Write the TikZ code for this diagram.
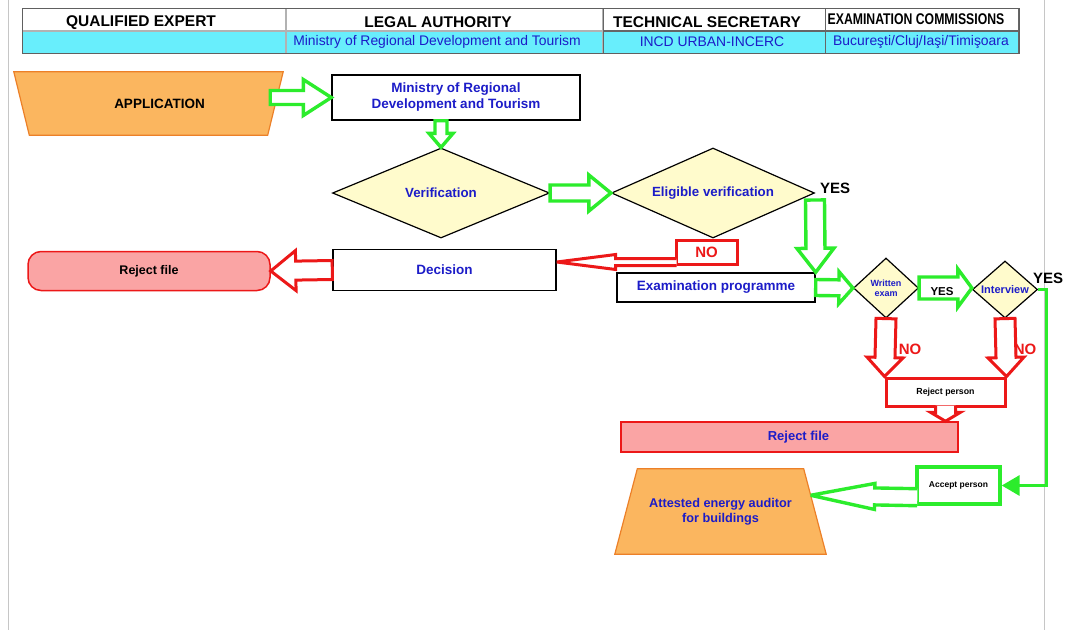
\documentclass[tikz,border=0pt]{standalone}
\usepackage{fontspec}
\setmainfont{Liberation Sans}
\usepackage{graphicx}
\usetikzlibrary{shapes,arrows.meta,positioning,calc,backgrounds}

\definecolor{txtblue}{RGB}{28,28,200}
\definecolor{hdrcyan}{RGB}{104,238,252}
\definecolor{orfill}{RGB}{251,182,95}
\definecolor{ordraw}{RGB}{236,128,40}
\definecolor{grn}{RGB}{44,236,44}
\definecolor{rd}{RGB}{236,24,24}
\definecolor{pinkfill}{RGB}{250,164,164}
\definecolor{yelfill}{RGB}{255,251,204}

% hollow block arrow: style, from, to, shaft half width, head half width, head length
\newcommand{\fatarrowpath}[7]{%
  \coordinate (hb) at ($(#3)!#6!(#2)$);
  \path[#1] ($(#2)!#4!90:(hb)$) -- ($(hb)!#4!-90:(#2)$) -- ($(hb)!#5!-90:(#2)$) -- (#3)
    -- ($(hb)!#5!90:(#2)$) -- ($(hb)!#4!90:(#2)$) -- ($(#2)!#4!-90:(hb)$) #7;
}
\newcommand{\fatarrow}[6][]{\fatarrowpath{#1}{#2}{#3}{#4}{#5}{#6}{-- cycle}}
\newcommand{\fatarrowopen}[6][]{\fatarrowpath{#1}{#2}{#3}{#4}{#5}{#6}{}}

\begin{document}
\begin{tikzpicture}[
    x=1pt, y=-1pt,
    hcell/.style={rectangle, draw=gray!60, line width=0.8pt, minimum height=22, inner sep=0pt},
    htitle/.style={font=\fontsize{15.5}{17}\selectfont\bfseries, inner sep=0pt},
    hsub/.style={font=\fontsize{13.9}{16}\selectfont, text=txtblue, inner sep=0pt},
    box/.style={rectangle, draw=black, line width=1.4pt, fill=white, text=txtblue, align=center,
        font=\fontsize{13.5}{16}\selectfont\bfseries, inner sep=0pt},
    cond/.style={diamond, draw=black, line width=1.2pt, fill=yelfill, text=txtblue, align=center,
        font=\fontsize{13.3}{15}\selectfont\bfseries, inner sep=0pt},
    trapbox/.style={rectangle, align=center, font=\fontsize{13.5}{16}\selectfont\bfseries, inner sep=0pt},
    trapline/.style={draw=ordraw, line width=1.2pt, fill=orfill},
    rejbox/.style={rectangle, draw=rd, line width=1.5pt, fill=pinkfill, inner sep=0pt,
        font=\fontsize{12.5}{14}\selectfont\bfseries},
    garrow/.style={draw=grn, line width=3.4pt, fill=white, line join=miter, miter limit=4},
    rarrow/.style={draw=rd, line width=3pt, fill=white, line join=miter, miter limit=4},
    lbl/.style={font=\fontsize{15}{17}\selectfont\bfseries, inner sep=0pt}
]
    \useasboundingbox (0,0) rectangle (1074,630);
    % page edges
    \draw[gray!45, line width=1pt] (8,0) -- (8,630);
    \draw[gray!45, line width=1pt] (1044,0) -- (1044,630);

    % Header table
    \node[hcell, minimum width=263, anchor=north west] (c1) at (22,8) {};
    \node[hcell, minimum width=316, right=0pt of c1] (c2) {};
    \node[hcell, minimum width=222, right=0pt of c2, draw=gray!80!black] (c3) {};
    \node[hcell, minimum width=193, right=0pt of c3, draw=gray!80!black] (c4) {};
    \node[hcell, minimum width=263, below=0pt of c1, fill=hdrcyan] (c5) {};
    \node[hcell, minimum width=316, right=0pt of c5, fill=hdrcyan] (c6) {};
    \node[hcell, minimum width=222, right=0pt of c6, fill=hdrcyan, draw=gray!80!black] (c7) {};
    \node[hcell, minimum width=193, right=0pt of c7, fill=hdrcyan, draw=gray!80!black] (c8) {};
    \draw[gray!75!black, line width=1pt] (c1.north west) rectangle (c8.south east);
    \node[htitle] (tqe) at (141,22.5) {QUALIFIED EXPERT};
    \node[htitle] (tla) at (438,22) {LEGAL AUTHORITY};
    \node[htitle] (tts) at (707,22) {TECHNICAL SECRETARY};
    \node[htitle] (tec) at (916,19) {\scalebox{0.79}[1]{EXAMINATION COMMISSIONS}};
    \node[hsub] (sla) at (437,42) {Ministry of Regional Development and Tourism};
    \node[hsub] (sts) at (712,42) {INCD URBAN-INCERC};
    \node[hsub] (sec) at (921,42) {Bucureşti/Cluj/Iaşi/Timişoara};

    % Nodes
    \node[trapbox, minimum width=269, minimum height=63] (app) at (148.5,103.5) {\hspace{22pt}APPLICATION};
    \node[box, minimum width=248, minimum height=45] (minreg) at (456,97.5)
        {Ministry of Regional\\Development and Tourism};
    \node[cond, aspect=2.4, minimum width=217, minimum height=90] (verif) at (441,193) {Verification};
    \node[cond, aspect=2.26, minimum width=203, minimum height=90] (elig) at (713,193) {Eligible verification};
    \node[box, minimum width=223, minimum height=41] (decision) at (444.5,270) {Decision};
    \node[rejbox, rounded corners=13, minimum width=242, minimum height=39] (rejl) at (149,271) {Reject file};
    \node[box, minimum width=198, minimum height=29] (exprog) at (716,287.5) {Examination programme};
    \node[cond, aspect=1.08, minimum width=65, minimum height=60,
        font=\fontsize{9}{10}\selectfont\bfseries] (wexam) at (886,288) {Written\\exam};
    \node[cond, aspect=1.14, minimum width=65, minimum height=57,
        font=\fontsize{11}{12}\selectfont\bfseries] (interv) at (1005,289.5) {Interview};
    \node[rectangle, draw=rd, line width=3pt, fill=white, minimum width=119, minimum height=28,
        font=\fontsize{8.8}{10}\selectfont\bfseries] (rejp) at (945.5,392) {Reject person};
    \node[rejbox, text=txtblue, font=\fontsize{13}{15}\selectfont\bfseries,
        minimum width=337, minimum height=30] (rejr) at (789.5,437) {\hspace{18pt}Reject file};
    \node[rectangle, draw=grn, line width=3.4pt, fill=white, minimum width=83, minimum height=37,
        font=\fontsize{8.5}{10}\selectfont\bfseries] (accp) at (958.5,485.5) {Accept person};
    \node[trapbox, text=txtblue, minimum width=211, minimum height=85,
        font=\fontsize{12.7}{15}\selectfont\bfseries] (att) at (720.5,511.5)
        {Attested energy auditor\\for buildings};
    \node[rectangle, draw=rd, line width=3pt, fill=white, minimum width=61, minimum height=24,
        text=rd, lbl] (nobox) at (706.5,252) {NO};

    % Trapezoids behind their texts
    \begin{scope}[on background layer]
        \path[trapline] (app.north west) -- (app.north east) -- ([xshift=-15.5pt]app.south east)
            -- ([xshift=15.5pt]app.south west) -- cycle;
        \path[trapline] ([xshift=22.5pt]att.north west) -- ([xshift=-22.5pt]att.north east)
            -- (att.south east) -- (att.south west) -- cycle;
    \end{scope}

    % Arrows
    \coordinate (as) at ($(app.east |- minreg.west)+(-13,0)$);
    \fatarrow[garrow]{as}{minreg.west}{7pt}{18pt}{28pt}
    \coordinate (vs) at (verif.north |- minreg.south);
    \fatarrow[garrow]{vs}{verif.north}{6pt}{12pt}{14pt}
    \fatarrow[garrow]{verif.east}{elig.west}{8pt}{18pt}{22pt}
    \coordinate (ys) at (815,200);
    \coordinate (yt) at (exprog.north east);
    \fatarrow[garrow]{ys}{yt}{9.5pt}{18.5pt}{24pt}
    \coordinate (ns) at ($(nobox.south west)+(2,-3.5)$);
    \coordinate (nt) at (decision.east |- ns);
    \fatarrowopen[rarrow]{ns}{nt}{3.5pt}{7.5pt}{59pt}
    \fatarrow[rarrow]{decision.west}{rejl.east}{9.5pt}{20pt}{25pt}
    \fatarrow[garrow]{exprog.east}{wexam.west}{8pt}{16pt}{14pt}
    \coordinate (it) at (interv.west |- wexam.east);
    \fatarrow[garrow]{wexam.east}{it}{11pt}{19pt}{14pt}
    \fatarrow[rarrow]{wexam.south}{rejp.north west}{10pt}{18pt}{19pt}
    \fatarrow[rarrow]{interv.south}{rejp.north east}{10pt}{18pt}{19pt}
    \coordinate (rps) at ($(rejp.south)+(0,-2)$);
    \coordinate (rpt) at (rejp.south |- rejr.north);
    \fatarrowopen[rarrow]{rps}{rpt}{10pt}{15pt}{9pt}
    \draw[grn, line width=3.4pt, -{Triangle[length=18pt,width=20pt]}]
        (interv.east) -- ++(8.5,0) |- (accp.east);
    \coordinate (acs) at ($(accp.south west)+(2,-8.5)$);
    \coordinate (act) at ($([xshift=-22.5pt]att.north east)!0.31!(att.south east)$);
    \fatarrowopen[garrow]{acs}{act}{8.5pt}{13pt}{64pt}

    % Labels
    \node[lbl] (yes1) at (835,188) {YES};
    \node[lbl, font=\fontsize{11.5}{13}\selectfont\bfseries] (yes2) at (942,292) {YES};
    \node[lbl] (yes3) at (1048,278) {YES};
    \node[lbl, text=rd] (no1) at (910,349) {NO};
    \node[lbl, text=rd] (no2) at (1025,349) {NO};
\end{tikzpicture}
\end{document}
